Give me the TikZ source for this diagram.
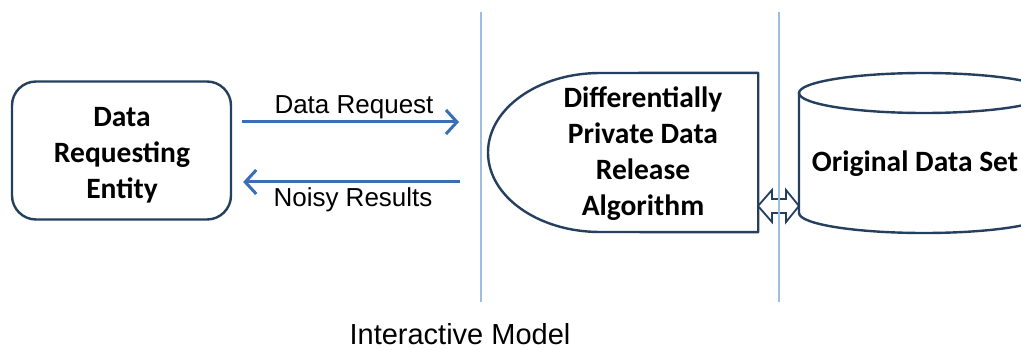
\documentclass[tikz,border=0pt]{standalone}
\usepackage{fontspec}
\setmainfont{Liberation Sans}
\newfontfamily\boxfont{Carlito}
\usetikzlibrary{arrows.meta}

\definecolor{navy}{HTML}{25405F}
\definecolor{flowblue}{HTML}{3A6FB3}
\definecolor{guideblue}{HTML}{9FBDE0}

\tikzset{
  outline/.style={draw=navy, line width=2.4pt},
  boxtext/.style={align=center, font=\boxfont\bfseries\fontsize{29.5}{36}\selectfont, inner sep=0pt},
  flow/.style={draw=flowblue, line width=3pt,
    -{Straight Barb[length=11pt, width=24pt, line width=3pt]}},
  flowlabel/.style={font=\fontsize{26}{30}\selectfont, anchor=base, inner sep=0pt},
  guide/.style={draw=guideblue, line width=1.6pt},
}

\begin{document}
\begin{tikzpicture}[x=1pt, y=-1pt]
  \useasboundingbox (0,0) rectangle (1021,350);
  \fill[white] (0,0) rectangle (1021,350);

  % requesting entity
  \node[outline, rounded corners=24pt, minimum width=219pt, minimum height=138pt, inner sep=0pt]
    (req) at (121.5,150.5) {};
  \node[boxtext] (reqtext) at (122,155) {Data\\Requesting\\Entity};

  % release algorithm (delay-shaped box)
  \node[minimum width=270pt, minimum height=159pt, inner sep=0pt] (alg) at (623,152.5) {};
  \draw[outline, line join=round]
    (600,73) -- (alg.north east) -- (alg.south east) -- (600,232)
    arc[start angle=90, end angle=270, x radius=112, y radius=79.5];
  \node[boxtext] (algtext) at (643,154) {Differentially\\Private Data\\Release\\Algorithm};

  % original data set (cylinder)
  \node[minimum width=250pt, minimum height=160pt, inner sep=0pt] (db) at (924,153) {};
  \begin{scope}
    \clip (0,0) rectangle (1021,350);
    \draw[outline]
      (799,93) -- (799,213)
      arc[start angle=180, end angle=0, x radius=125, y radius=20]
      -- (1049,93);
    \draw[outline] (924,93) ellipse[x radius=125, y radius=20];
  \end{scope}
  \node[boxtext, anchor=base] (dbtext) at (915,172) {Original Data Set};

  % flows between entity and algorithm
  \coordinate (reqend) at (459,122);
  \coordinate (resstart) at (460,182);
  \draw[flow] ([xshift=10pt]req.east |- reqend) coordinate (reqstart) -- (reqend);
  \draw[flow] (resstart) -- ([xshift=11pt]req.east |- resstart);
  \node[flowlabel] (reqlabel) at (354,114) {Data Request};
  \node[flowlabel] (reslabel) at (353,207) {Noisy Results};

  % two-way link between algorithm and data set
  \draw[draw=navy, line width=1.8pt, fill=white, line join=miter]
    (758,206) -- (772,190) -- (772,199) -- (786,199) -- (786,190) -- (799,206)
    -- (786,222) -- (786,213) -- (772,213) -- (772,222) -- cycle;

  % tier separators
  \coordinate (g1top) at (481,12);
  \coordinate (g1bot) at (481,302);
  \coordinate (g2top) at (779,12);
  \coordinate (g2bot) at (779,302);
  \draw[guide] (g1top) -- (g1bot);
  \draw[guide] (g2top) -- (g2bot);

  % caption
  \node[font=\fontsize{29}{32}\selectfont, anchor=base, inner sep=0pt] (caption) at (460,344) {Interactive Model};
\end{tikzpicture}
\end{document}
